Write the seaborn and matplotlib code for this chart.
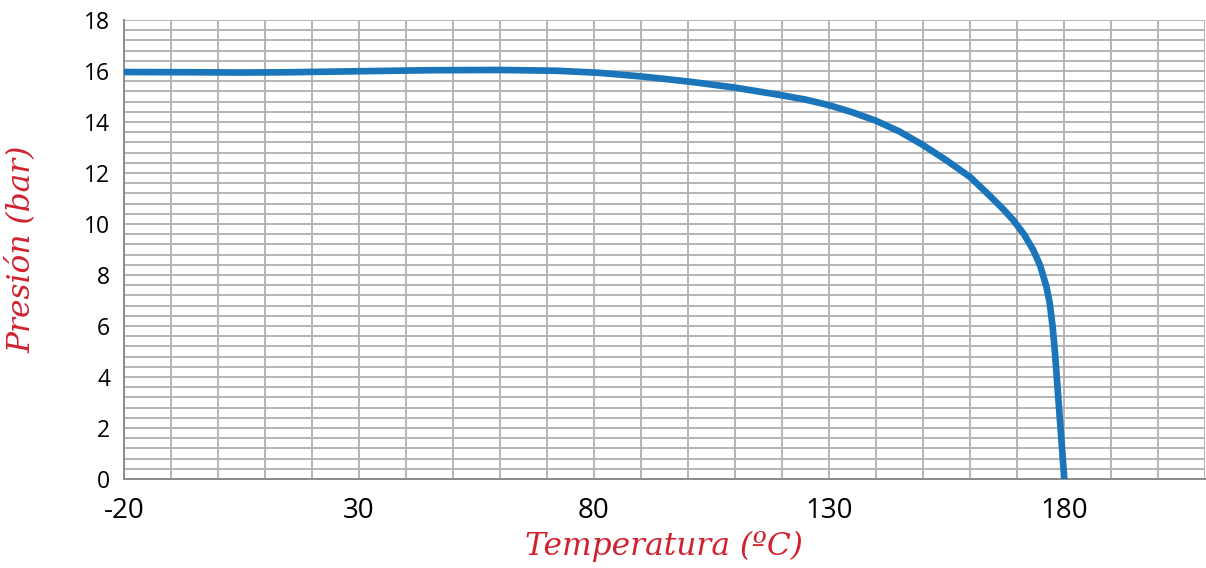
import numpy as np
import pandas as pd
import matplotlib
matplotlib.use("Agg")
import matplotlib.pyplot as plt
import seaborn as sns
from matplotlib.ticker import MultipleLocator

# datos: temperatura (ºC) y presion (bar)
temperatura = [-20, -5, 5, 15, 30, 45, 60, 72, 81, 90.5, 100.4, 109.6, 119.6, 125, 130, 135,
               140, 145, 150, 155, 160, 164, 167, 169.2, 171.5, 173.5, 175, 176.3, 177, 177.6,
               178.1, 178.5, 178.9, 179.3, 179.7, 180.1]
presion = [15.96, 15.95, 15.94, 15.95, 15.99, 16.03, 16.04, 16.01, 15.93, 15.78, 15.58, 15.36,
           15.06, 14.88, 14.66, 14.38, 14.05, 13.63, 13.1, 12.5, 11.85, 11.15, 10.6, 10.16, 9.6,
           8.98, 8.35, 7.54, 6.9, 6.0, 5.0, 4.0, 3.0, 2.0, 1.0, 0.0]

xticks = [-20, 30, 80, 130, 180]
yticks = list(range(0, 20, 2))

df = pd.DataFrame({"temperatura": temperatura, "presion": presion})

sns.set_style("white")
plt.rcParams["font.family"] = ["Open Sans", "DejaVu Sans"]
plt.rcParams["axes.unicode_minus"] = False

fig = plt.figure(figsize=(12.06, 5.68), dpi=100)
ax = fig.add_axes([0.1028, 0.1567, 0.8962, 0.8081])

sns.lineplot(data=df, x="temperatura", y="presion", ax=ax, color="#1b75bb",
             linewidth=4.8, sort=False, estimator=None, zorder=5)
ax.lines[0].set_solid_capstyle("round")
ax.lines[0].set_solid_joinstyle("round")

ax.set_xlim(-20, 210)
ax.set_ylim(0, 18)
ax.set_xticks(xticks)
ax.set_yticks(yticks)
ax.xaxis.set_minor_locator(MultipleLocator(10))
ax.yaxis.set_minor_locator(MultipleLocator(0.4))

# rejilla gris fina
ax.grid(True, which="both", color="#b4b4b4", linewidth=1.4)
ax.set_axisbelow(True)

for s in ["top", "right"]:
    ax.spines[s].set_visible(False)
for s in ["left", "bottom"]:
    ax.spines[s].set_color("#8c8c8c")
    ax.spines[s].set_linewidth(1.4)

ax.tick_params(axis="both", which="both", color="#8c8c8c", width=1.4, labelcolor="black")
ax.tick_params(axis="x", which="both", length=7, labelsize=20, pad=6)
ax.tick_params(axis="y", which="both", length=6, labelsize=16.5, pad=4)

rojo = "#d0222e"
ax.set_xlabel("Temperatura (ºC)", family="DejaVu Serif", style="italic",
              fontsize=22.5, color=rojo, labelpad=4)
ax.set_ylabel("Presión (bar)", family="DejaVu Serif", style="italic",
              fontsize=22.5, color=rojo, labelpad=34)

fig.savefig("out.png", dpi=100)
